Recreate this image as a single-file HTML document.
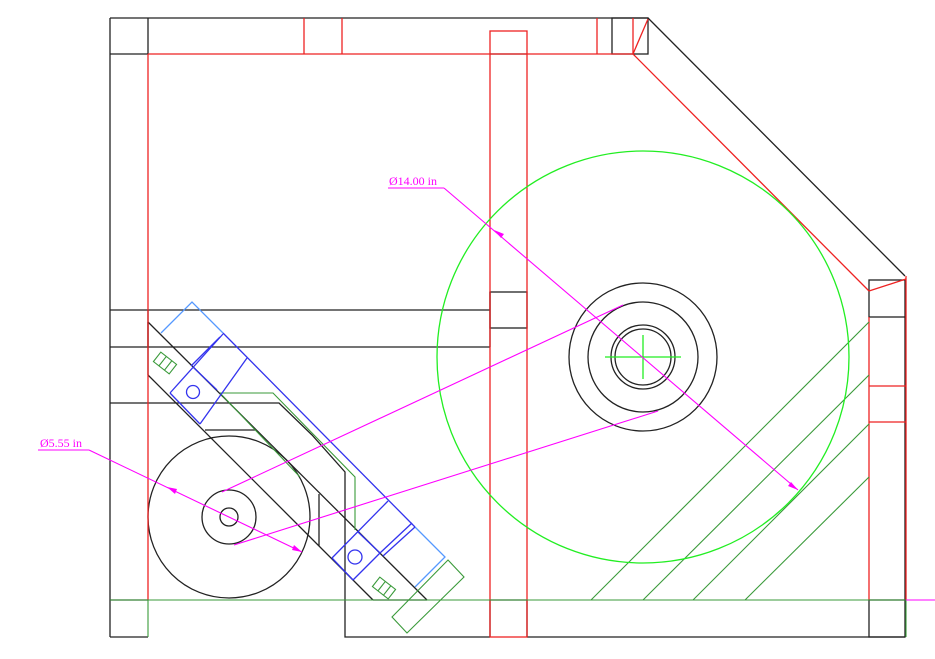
<!DOCTYPE html>
<html><head><meta charset="utf-8"><style>html,body{margin:0;padding:0;background:#fff}svg{display:block}</style></head>
<body>
<svg width="935" height="659" viewBox="0 0 935 659" xmlns="http://www.w3.org/2000/svg" fill="none" stroke-width="1.3">
<!-- black frame -->
<g stroke="#222">
<line x1="110" y1="18" x2="648" y2="18"/>
<line x1="110" y1="18" x2="110" y2="637"/>
<line x1="148" y1="18" x2="148" y2="54"/>
<line x1="110" y1="54" x2="148" y2="54"/>
<line x1="490" y1="54" x2="527" y2="54"/>
<rect x="612" y="18" width="36" height="36"/>
<line x1="648" y1="18" x2="905" y2="276"/>
<line x1="110" y1="310" x2="490" y2="310"/>
<line x1="110" y1="347" x2="490" y2="347"/>
<line x1="148" y1="310" x2="148" y2="347"/>
<rect x="490" y="292" width="37" height="36"/>
<line x1="490" y1="292" x2="490" y2="347"/>
<polyline points="110,403 279,403 312,435 345,472 345,637 490,637"/>
<line x1="110" y1="600" x2="148" y2="600"/>
<line x1="110" y1="637" x2="148" y2="637"/>
<line x1="490" y1="600" x2="527" y2="600"/>
<line x1="490" y1="600" x2="490" y2="637"/>
<line x1="527" y1="600" x2="527" y2="637"/>
<line x1="527" y1="637" x2="905" y2="637"/>
<rect x="869" y="280" width="36" height="37"/>
<rect x="869" y="600" width="36" height="37"/>
<line x1="905" y1="317" x2="905" y2="600"/>
<!-- conveyor black -->
<line x1="148" y1="322" x2="427" y2="600"/>
<line x1="148" y1="375" x2="373" y2="600"/>
<line x1="373" y1="600" x2="427" y2="600"/>
<line x1="148" y1="322" x2="148" y2="375"/>
<line x1="205" y1="430" x2="255" y2="430"/>
<line x1="319" y1="494" x2="319" y2="546"/>
<!-- circles -->
<circle cx="229" cy="517" r="81"/>
<circle cx="229" cy="517" r="27"/>
<circle cx="229" cy="517" r="9"/>
<circle cx="643" cy="357" r="74"/>
<circle cx="643" cy="357" r="55"/>
<circle cx="643" cy="357" r="32"/>
<circle cx="643" cy="357" r="28"/>
</g>
<!-- red -->
<g stroke="#e22">
<line x1="148" y1="54" x2="633" y2="54"/>
<line x1="148" y1="54" x2="148" y2="600"/>
<line x1="304" y1="18" x2="304" y2="54"/>
<line x1="342" y1="18" x2="342" y2="54"/>
<rect x="490" y="31" width="37" height="606"/>
<line x1="597" y1="18" x2="597" y2="54"/>
<line x1="633" y1="18" x2="633" y2="54"/>
<line x1="648" y1="19" x2="633" y2="54"/>
<line x1="633" y1="54" x2="869" y2="291"/>
<line x1="869" y1="291" x2="906" y2="279"/>
<line x1="906" y1="276" x2="906" y2="600"/>
<line x1="869" y1="317" x2="869" y2="600"/>
<line x1="869" y1="386" x2="906" y2="386"/>
<line x1="869" y1="422" x2="906" y2="422"/>
</g>
<!-- green -->
<g stroke="#3a9a3a" stroke-width="1.1">
<line x1="110" y1="600" x2="906" y2="600"/>
<line x1="148" y1="600" x2="148" y2="637"/>
<line x1="906" y1="600" x2="906" y2="637"/>
<line x1="869" y1="322" x2="591" y2="600"/>
<line x1="869" y1="375" x2="643" y2="600"/>
<line x1="869" y1="424" x2="693" y2="600"/>
<line x1="869" y1="477" x2="745" y2="600"/>
<polyline points="220,393 273,393 355,477 355,530"/>
<line x1="220" y1="393" x2="300" y2="477"/>
<polygon points="448,560 464,577 407,633 392,617"/>
<g transform="translate(165,363) rotate(38)"><rect x="-10" y="-6" width="20" height="12"/><line x1="-3" y1="-6" x2="-3" y2="6"/><line x1="4" y1="-6" x2="4" y2="6"/></g>
<g transform="translate(384,588) rotate(38)"><rect x="-10" y="-6" width="20" height="12"/><line x1="-3" y1="-6" x2="-3" y2="6"/><line x1="4" y1="-6" x2="4" y2="6"/></g>
</g>
<g stroke="#2e2">
<circle cx="643" cy="357" r="206"/>
<line x1="605" y1="357" x2="681" y2="357"/>
<line x1="643" y1="335" x2="643" y2="379"/>
</g>
<!-- blue -->
<g stroke="#59f">
<polyline points="223,333 192,302 161,333"/>
<polyline points="415,527 445,557 415,587"/>
</g>
<g stroke="#33e">
<line x1="223" y1="333" x2="415" y2="527"/>
<line x1="223" y1="334" x2="170" y2="393"/>
<line x1="220" y1="337" x2="191" y2="366"/>
<line x1="247" y1="358" x2="200" y2="424"/>
<line x1="193" y1="367" x2="217" y2="390"/>
<line x1="170" y1="393" x2="200" y2="424"/>
<circle cx="193" cy="392" r="6.5"/>
<line x1="388" y1="501" x2="332" y2="558"/>
<line x1="412" y1="523" x2="380" y2="553"/>
<line x1="415" y1="527" x2="383" y2="556"/>
<line x1="358" y1="532" x2="380" y2="553"/>
<line x1="332" y1="558" x2="353" y2="580"/>
<line x1="353" y1="580" x2="380" y2="553"/>
<circle cx="355" cy="557" r="7"/>
</g>
<!-- magenta dims -->
<g stroke="#f0f" stroke-width="1.1">
<line x1="222" y1="492" x2="623" y2="305"/>
<line x1="234" y1="545" x2="658" y2="411"/>
<line x1="388" y1="188" x2="444" y2="188"/>
<line x1="444" y1="188" x2="798" y2="490"/>
<line x1="38" y1="450" x2="89" y2="450"/>
<line x1="89" y1="450" x2="302" y2="552"/>
<line x1="906" y1="600" x2="935" y2="600"/>
</g>
<g fill="#f0f">
<polygon points="494,230 504,234 501,238"/>
<polygon points="798,490 788,486 791,482"/>
<polygon points="167,487 177,489 175,494"/>
<polygon points="302,552 292,550 294,545"/>
</g>
<g fill="#f0f" font-family="Liberation Serif, serif" font-size="12">
<text x="389" y="185">Ø14.00 in</text>
<text x="40" y="447">Ø5.55 in</text>
</g>
</svg>
</body></html>
